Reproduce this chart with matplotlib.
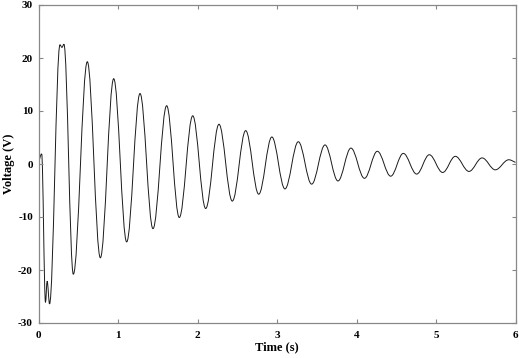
import numpy as np
import matplotlib
matplotlib.use("Agg")
import matplotlib.pyplot as plt
from matplotlib.path import Path
from matplotlib.patches import PathPatch

# Extremum points (time s, voltage V)
time_s = [0.0, 0.04, 0.088, 0.109, 0.139, 0.27, 0.295, 0.32, 0.438, 0.614, 0.778,
          0.946, 1.109, 1.277, 1.44, 1.612, 1.771, 1.94, 2.103, 2.27, 2.438,
          2.606, 2.77, 2.935, 3.10, 3.268, 3.436, 3.604, 3.767, 3.93, 4.10,
          4.262, 4.43, 4.589, 4.757, 4.916, 5.084, 5.243, 5.415, 5.58, 5.746,
          5.915, 6.0]
voltage_v = [0.0, 1.9, -26.1, -22.1, -26.4, 22.5, 22.0, 22.6, -20.8, 19.3, -17.7,
             16.1, -14.7, 13.3, -12.2, 11.0, -10.1, 9.1, -8.4, 7.5, -7.0,
             6.3, -5.7, 5.1, -4.7, 4.2, -3.8, 3.6, -3.2, 3.0, -2.7,
             2.4, -2.3, 2.0, -1.9, 1.75, -1.6, 1.45, -1.4, 1.15, -1.1,
             0.8, 0.3]

x_ticks = [0, 1, 2, 3, 4, 5, 6]
y_ticks = [-30, -20, -10, 0, 10, 20, 30]

plt.rcParams['font.family'] = ['Liberation Serif', 'DejaVu Serif']

fig = plt.figure(figsize=(5.19, 3.58), dpi=100)
ax = fig.add_axes([38.5 / 519, 1 - 323 / 358, (515.5 - 38.5) / 519, (323 - 5) / 358])

# Smooth curve through the extrema using cubic Bezier segments (horizontal tangents)
k = 0.364
verts = [(time_s[0], voltage_v[0])]
codes = [Path.MOVETO]
for i in range(len(time_s) - 1):
    t0, v0 = time_s[i], voltage_v[i]
    t1, v1 = time_s[i + 1], voltage_v[i + 1]
    dt = t1 - t0
    c1 = (t0 + k * dt, v0)
    c2 = (t1 - k * dt, v1)
    if i == 0:
        c1 = (t0 + k * dt, v0 + 0.5 * (v1 - v0))
    if i == len(time_s) - 2:
        c2 = (t1 - k * dt, v1 - 0.4 * (v1 - v0))
    verts += [c1, c2, (t1, v1)]
    codes += [Path.CURVE4] * 3
path = Path(verts, codes)
ax.add_patch(PathPatch(path, facecolor='none', edgecolor='#1a1a1a', lw=0.7))

ax.set_xlim(0, 6)
ax.set_ylim(-30, 30)
ax.set_xticks(x_ticks)
ax.set_yticks(y_ticks)
ax.set_xticklabels([str(v) for v in x_ticks], fontweight='bold', fontsize=8)
ax.set_yticklabels([str(v) for v in y_ticks], fontweight='bold', fontsize=8)
ax.tick_params(direction='in', length=3, width=0.8, color='#888888',
               top=True, right=True)
ax.tick_params(axis='x', pad=6)
ax.tick_params(axis='y', pad=4)
for s in ax.spines.values():
    s.set_color('#888888')
    s.set_linewidth(0.9)

ax.set_xlabel('Time (s)', fontweight='bold', fontsize=9, labelpad=1)
ax.set_ylabel('Voltage (V)', fontweight='bold', fontsize=9, labelpad=2)

fig.savefig('out.png', dpi=100)
